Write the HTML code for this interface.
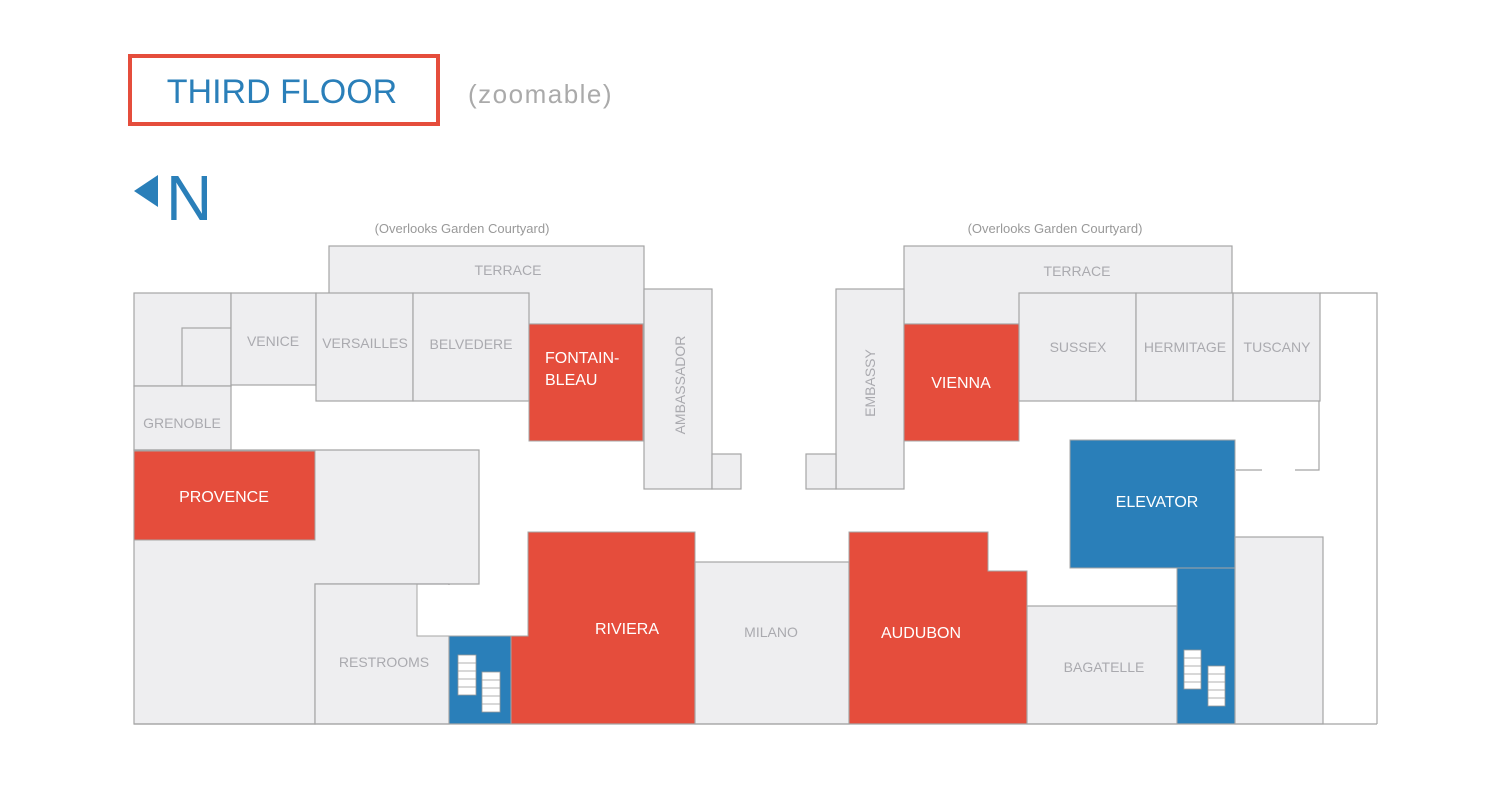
<!DOCTYPE html>
<html><head><meta charset="utf-8"><style>
html,body{margin:0;padding:0;background:#fff;width:1512px;height:786px;overflow:hidden}
svg{display:block;font-family:"Liberation Sans",sans-serif}
.g{fill:#eeeef0;stroke:#a5a5a5;stroke-width:1.2}
.r{fill:#e54d3c;stroke:#a5a5a5;stroke-width:1}
.b{fill:#2a7fb9;stroke:#a5a5a5;stroke-width:1}
.lt{fill:#aaaaaf;font-size:14px;text-anchor:middle}
.wt{fill:#fff;font-size:16px;text-anchor:middle}
.st{fill:#fff;stroke:#999;stroke-width:0.8}
</style></head><body>
<svg width="1512" height="786" viewBox="0 0 1512 786">
<rect x="130" y="56" width="308" height="68" fill="none" stroke="#e54d3c" stroke-width="4"/>
<text x="282" y="103" font-size="34" fill="#2a7fb9" text-anchor="middle">THIRD FLOOR</text>
<text x="468" y="103" font-size="26" fill="#aaa" letter-spacing="1.5">(zoomable)</text>
<polygon points="134,191 158,175 158,207" fill="#2a7fb9"/>
<text x="166" y="220" font-size="64" fill="#2a7fb9">N</text>
<text x="462" y="233" font-size="13" fill="#999" text-anchor="middle">(Overlooks Garden Courtyard)</text>
<text x="1055" y="233" font-size="13" fill="#999" text-anchor="middle">(Overlooks Garden Courtyard)</text>
<polyline points="1320,293 1377,293 1377,724" fill="none" stroke="#a5a5a5" stroke-width="1.2"/>
<polyline points="1319,401 1319,470 1295,470" fill="none" stroke="#a5a5a5" stroke-width="1.2"/>
<line x1="1236" y1="470" x2="1262" y2="470" stroke="#a5a5a5" stroke-width="1.2"/>
<rect class="g" x="329" y="246" width="315" height="78"/>
<text class="lt" x="508" y="275">TERRACE</text>
<rect class="g" x="134" y="293" width="97" height="93"/>
<rect class="g" x="182" y="328" width="49" height="58"/>
<rect class="g" x="231" y="293" width="85" height="92"/>
<text class="lt" x="273" y="346">VENICE</text>
<rect class="g" x="316" y="293" width="97" height="108"/>
<text class="lt" x="365" y="348">VERSAILLES</text>
<rect class="g" x="413" y="293" width="116" height="108"/>
<text class="lt" x="471" y="349">BELVEDERE</text>
<rect class="r" x="529" y="324" width="114" height="117"/>
<text class="wt" x="545" y="363" style="text-anchor:start">FONTAIN-</text>
<text class="wt" x="545" y="385" style="text-anchor:start">BLEAU</text>
<rect class="g" x="644" y="289" width="68" height="200"/>
<text class="lt" transform="translate(685,385) rotate(-90)">AMBASSADOR</text>
<rect class="g" x="712" y="454" width="29" height="35"/>
<rect class="g" x="134" y="386" width="97" height="64"/>
<text class="lt" x="182" y="428">GRENOBLE</text>
<polygon class="g" points="134,450 479,450 479,584 315,584 315,724 134,724"/>
<rect class="r" x="134" y="451" width="181" height="89"/>
<text class="wt" x="224" y="502">PROVENCE</text>
<rect class="g" x="315" y="584" width="134" height="140"/>
<rect x="417" y="585" width="111" height="51" fill="#fff"/>
<polyline points="417,584 417,636 528,636" fill="none" stroke="#a5a5a5"/>
<text class="lt" x="384" y="667">RESTROOMS</text>
<rect class="b" x="449" y="636" width="62" height="88"/>
<rect class="st" x="458" y="655" width="18" height="40"/>
<rect class="st" x="482" y="672" width="18" height="40"/>
<path class="st" d="M458,663h18M458,671h18M458,679h18M458,687h18M482,680h18M482,688h18M482,696h18M482,704h18"/>
<polygon class="r" points="528,532 695,532 695,724 511,724 511,636 528,636"/>
<text class="wt" x="627" y="634">RIVIERA</text>
<rect class="g" x="695" y="562" width="154" height="162"/>
<text class="lt" x="771" y="637">MILANO</text>
<rect class="g" x="904" y="246" width="328" height="78"/>
<text class="lt" x="1077" y="276">TERRACE</text>
<rect class="g" x="836" y="289" width="68" height="200"/>
<text class="lt" transform="translate(875,383) rotate(-90)">EMBASSY</text>
<rect class="g" x="806" y="454" width="30" height="35"/>
<rect class="r" x="904" y="324" width="115" height="117"/>
<text class="wt" x="961" y="388">VIENNA</text>
<rect class="g" x="1019" y="293" width="117" height="108"/>
<text class="lt" x="1078" y="352">SUSSEX</text>
<rect class="g" x="1136" y="293" width="97" height="108"/>
<text class="lt" x="1185" y="352">HERMITAGE</text>
<rect class="g" x="1233" y="293" width="87" height="108"/>
<text class="lt" x="1277" y="352">TUSCANY</text>
<rect class="b" x="1070" y="440" width="165" height="128"/>
<text class="wt" x="1157" y="507">ELEVATOR</text>
<polygon class="r" points="849,532 988,532 988,571 1027,571 1027,724 849,724"/>
<text class="wt" x="921" y="638">AUDUBON</text>
<rect class="g" x="1027" y="606" width="150" height="118"/>
<text class="lt" x="1104" y="672">BAGATELLE</text>
<rect class="b" x="1177" y="568" width="58" height="156"/>
<rect class="st" x="1184" y="650" width="17" height="39"/>
<rect class="st" x="1208" y="666" width="17" height="40"/>
<path class="st" d="M1184,658h17M1184,666h17M1184,674h17M1184,682h17M1208,674h17M1208,682h17M1208,690h17M1208,698h17"/>
<rect class="g" x="1235" y="537" width="88" height="187"/>
<line x1="134" y1="724" x2="1377" y2="724" stroke="#a5a5a5" stroke-width="1.2"/>
</svg>
</body></html>
